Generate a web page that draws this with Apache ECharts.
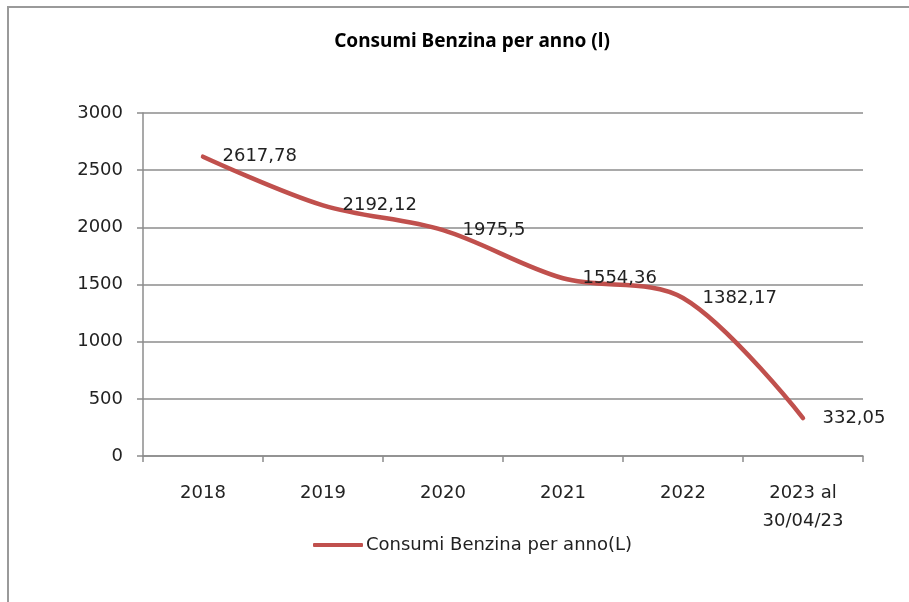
<!DOCTYPE html>
<html>
<head>
<meta charset="utf-8">
<script src="https://cdn.jsdelivr.net/npm/echarts@6/dist/echarts.min.js"></script>
<style>
  html, body { margin: 0; padding: 0; background: #fff; }
  #main { width: 909px; height: 602px; }
</style>
</head>
<body>
<div id="main"></div>
<script>
var anni = ['2018', '2019', '2020', '2021', '2022', '2023 al\n30/04/23'];
var consumi = [2617.78, 2192.12, 1975.5, 1554.36, 1382.17, 332.05];
var nomeSerie = 'Consumi Benzina per anno(L)';
var titolo = 'Consumi Benzina per anno (l)';

var chart = echarts.init(document.getElementById('main'));
var grigio = '#8c8c8c';

var option = {
  backgroundColor: '#fff',
  animation: false,
  // cornice esterna del grafico
  graphic: [{
    type: 'rect',
    shape: { x: 8, y: 7, width: 1000, height: 700 },
    style: { fill: 'none', stroke: '#9a9a9a', lineWidth: 2 },
    silent: true
  }],
  title: {
    text: titolo,
    left: 467,
    textAlign: 'center',
    top: 27,
    textStyle: {
      fontFamily: 'Noto Sans',
      fontWeight: 'bold',
      fontSize: 19,
      color: '#000'
    }
  },
  legend: {
    data: [nomeSerie],
    left: 308,
    top: 531,
    itemWidth: 50,
    itemHeight: 4,
    itemGap: 3,
    icon: 'roundRect',
    textStyle: {
      fontFamily: 'DejaVu Sans',
      fontSize: 18,
      color: '#222',
      padding: [0, 0, 0, -2]
    }
  },
  grid: {
    left: 143,
    right: 46,
    top: 113,
    bottom: 146
  },
  xAxis: {
    type: 'category',
    data: anni,
    boundaryGap: true,
    axisLine: { lineStyle: { color: grigio, width: 1.5 } },
    axisTick: { show: true, length: 6, lineStyle: { color: grigio, width: 1.5 } },
    axisLabel: {
      margin: 23,
      fontFamily: 'DejaVu Sans',
      fontSize: 18,
      color: '#222',
      lineHeight: 28
    }
  },
  yAxis: {
    type: 'value',
    min: 0,
    max: 3000,
    interval: 500,
    axisLine: { show: true, lineStyle: { color: grigio, width: 1.5 } },
    axisTick: { show: true, length: 6, lineStyle: { color: grigio, width: 1.5 } },
    splitLine: { show: true, lineStyle: { color: grigio, width: 1.5 } },
    axisLabel: {
      margin: 20,
      fontFamily: 'DejaVu Sans',
      fontSize: 18,
      color: '#222',
      formatter: function (v) { return String(v); }
    }
  },
  series: [{
    name: nomeSerie,
    type: 'line',
    data: consumi,
    smooth: 0.33,
    symbol: 'circle',
    symbolSize: 1,
    showSymbol: true,
    lineStyle: { color: '#c0504d', width: 4.5, cap: 'round' },
    itemStyle: { color: '#c0504d' },
    label: {
      show: true,
      position: 'right',
      distance: 19,
      fontFamily: 'DejaVu Sans',
      fontSize: 18,
      color: '#222',
      formatter: function (p) {
        return String(p.value).replace('.', ',');
      }
    }
  }]
};

chart.setOption(option);
</script>
</body>
</html>
